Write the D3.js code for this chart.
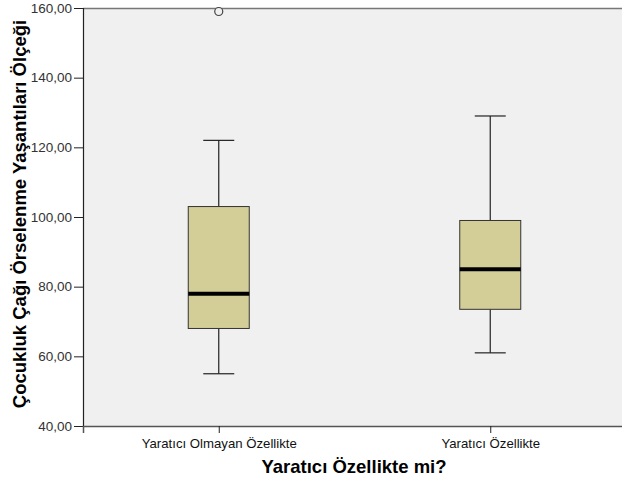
<!DOCTYPE html>
<html><head><meta charset="utf-8">
<script src="https://cdn.jsdelivr.net/npm/d3@7"></script>
<style>body{margin:0;background:#fff}svg{display:block}</style>
</head><body>
<svg id="c" width="622" height="481"></svg>
<script>
const categories = ["Yaratıcı Olmayan Özellikte", "Yaratıcı Özellikte"];
const whiskerLow = [55, 61];
const q1 = [68, 73.5];
const median = [78, 85];
const q3 = [103, 99];
const whiskerHigh = [122, 129];
const outliers = [[159], []];
const yTicks = [40, 60, 80, 100, 120, 140, 160];
const yTitle = "Çocukluk Çağı Örselenme Yaşantıları Ölçeği";
const xTitle = "Yaratıcı Özellikte mi?";

const svg = d3.select("#c");
const L = 83, T = 8, R = 626, B = 426;
const x = d3.scalePoint().domain(categories).range([L, R]).padding(0.5);
const y = d3.scaleLinear().domain([40, 160]).range([B, T]);
const font = "'Liberation Sans', Arial, sans-serif";

svg.append("rect").attr("x", L).attr("y", T).attr("width", R - L).attr("height", B - T).attr("fill", "#F0F0F0");
svg.append("line").attr("x1", L).attr("x2", R).attr("y1", T + 0.5).attr("y2", T + 0.5).attr("stroke", "#777").attr("stroke-width", 1.5);

const data = categories.map((c, i) => ({c, lo: whiskerLow[i], q1: q1[i], med: median[i], q3: q3[i], hi: whiskerHigh[i], out: outliers[i]}));
const bw = 61, cap = 31;
const g = svg.append("g");
data.forEach(d => {
  const cx = x(d.c);
  g.append("line").attr("x1", cx).attr("x2", cx).attr("y1", y(d.hi)).attr("y2", y(d.q3)).attr("stroke", "#222").attr("stroke-width", 1.2);
  g.append("line").attr("x1", cx).attr("x2", cx).attr("y1", y(d.q1)).attr("y2", y(d.lo)).attr("stroke", "#222").attr("stroke-width", 1.2);
  g.append("line").attr("x1", cx - cap / 2).attr("x2", cx + cap / 2).attr("y1", y(d.hi)).attr("y2", y(d.hi)).attr("stroke", "#222").attr("stroke-width", 1.2);
  g.append("line").attr("x1", cx - cap / 2).attr("x2", cx + cap / 2).attr("y1", y(d.lo)).attr("y2", y(d.lo)).attr("stroke", "#222").attr("stroke-width", 1.2);
  g.append("rect").attr("x", cx - bw / 2).attr("y", y(d.q3)).attr("width", bw).attr("height", y(d.q1) - y(d.q3))
    .attr("fill", "#D3CE97").attr("stroke", "#333").attr("stroke-width", 1);
  g.append("line").attr("x1", cx - bw / 2).attr("x2", cx + bw / 2).attr("y1", y(d.med)).attr("y2", y(d.med)).attr("stroke", "#000").attr("stroke-width", 4);
  d.out.forEach(v => {
    g.append("circle").attr("cx", cx).attr("cy", y(v)).attr("r", 4).attr("fill", "#F0F0F0").attr("stroke", "#444").attr("stroke-width", 1.2);
  });
});

// Y axis
const ya = svg.append("g").attr("transform", `translate(${L},0)`)
  .call(d3.axisLeft(y).tickValues(yTicks).tickSize(9).tickPadding(2).tickFormat(d => d3.format(".2f")(d).replace(".", ",")));
ya.select(".domain").attr("stroke", "#222").attr("stroke-width", 1.2);
ya.selectAll(".tick line").attr("stroke", "#222");
ya.selectAll("text").attr("font-family", font).attr("font-size", 13.5).attr("fill", "#333");

// X axis
const xa = svg.append("g").attr("transform", `translate(0,${B})`)
  .call(d3.axisBottom(x).tickSize(7).tickPadding(6));
xa.select(".domain").attr("stroke", "#555").attr("stroke-width", 1.5);
xa.selectAll(".tick line").attr("stroke", "#222");
xa.selectAll("text").attr("font-family", font).attr("font-size", 13.2).attr("fill", "#111");

svg.append("text").attr("x", 354).attr("y", 473).attr("text-anchor", "middle")
  .attr("font-family", font).attr("font-weight", "bold").attr("font-size", 18.5).attr("fill", "#000").text(xTitle);
svg.append("text").attr("transform", `translate(26,214) rotate(-90)`).attr("text-anchor", "middle")
  .attr("font-family", font).attr("font-weight", "bold").attr("font-size", 18.5).attr("fill", "#000").text(yTitle);
</script>
</body></html>
